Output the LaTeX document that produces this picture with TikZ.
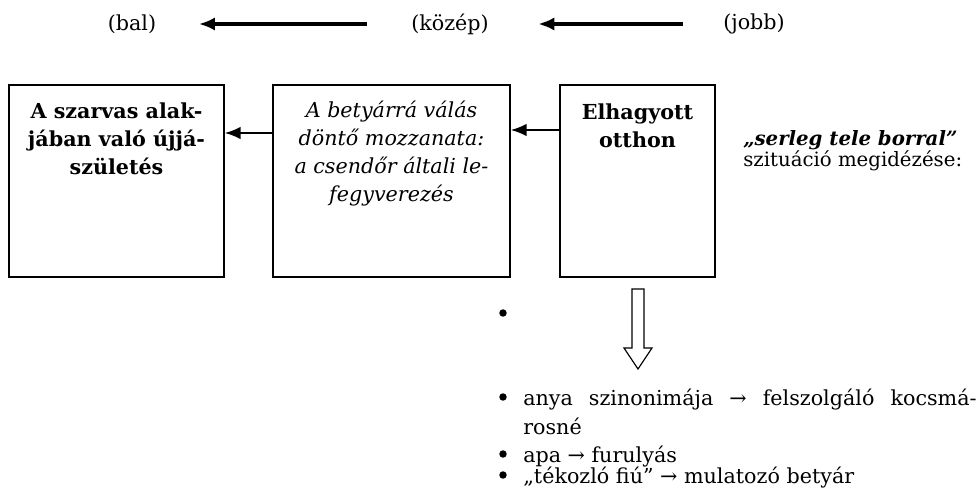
\documentclass[tikz,border=0pt]{standalone}
\usepackage{fontspec}
\setmainfont{DejaVu Serif}
\usetikzlibrary{arrows.meta}

\newcommand\diafont{\fontsize{15.5}{21}\selectfont}

\begin{document}
\begin{tikzpicture}[x=0.75pt,y=-0.75pt,font=\diafont]
  \useasboundingbox (0,0) rectangle (979,496);

  \begin{scope}[every node/.style={inner sep=0pt}]
    \node (bal)   at (132,24) {(bal)};
    \node (kozep) at (450,24) {(közép)};
    \node (jobb)  at (754,24) {(jobb)};
  \end{scope}

  \begin{scope}[every node/.style={draw,rectangle,line width=1pt,minimum height=144pt,inner sep=0pt}]
    \node[minimum width=161.25pt] (1) at (116.5,181) {};
    \node[minimum width=177.75pt] (2) at (391.5,181) {};
    \node[minimum width=116.25pt] (3) at (637.5,181) {};
  \end{scope}

  % anchor=base sits on the last line
  \begin{scope}[every node/.style={align=center,anchor=base,inner sep=0pt}]
    \node[font=\diafont\bfseries] (t1) at (116.5,174) {A szarvas alak-\\jában való újjá-\\születés};
    \node[font=\diafont\itshape]  (t2) at (391.5,201) {A betyárrá válás\\döntő mozzanata:\\a csendőr általi le-\\fegyverezés};
    \node[font=\diafont\bfseries] (t3) at (637.5,147) {Elhagyott\\otthon};
    \node[align=left,anchor=base west,font=\fontsize{14.8}{15.75}\selectfont] (serleg) at (743,166)
      {\textbf{\textit{„serleg tele borral”}}\\szituáció megidézése:};
  \end{scope}

  \begin{scope}[every node/.style={circle,fill,inner sep=0pt,minimum size=5.6pt}]
    \node (b0) at (503,313) {};
    \node (b1) at (503,397) {};
    \node (b2) at (503,454) {};
    \node (b3) at (503,475) {};
  \end{scope}

  \begin{scope}[every node/.style={inner sep=0pt,anchor=base west}]
    \node (l1) at (523,405) {\makebox[340pt][s]{anya szinonimája → felszolgáló kocsmá-}};
    \node (l1b) at (523,434) {rosné};
    \node (l2) at (523,462) {apa → furulyás};
    \node (l3) at (523,483) {„tékozló fiú” → mulatozó betyár};
  \end{scope}

  \begin{scope}[line width=2.4pt,-{Latex[length=12pt,width=10pt]}]
    \path (kozep) edge[shorten <=33.2pt,shorten >=31.9pt] (bal);
    \path (jobb)  edge[shorten <=30.2pt,shorten >=37pt] (kozep);
  \end{scope}

  \begin{scope}[line width=1.6pt,-{Latex[length=12pt,width=9.5pt]}]
    \draw ([yshift=36pt]2.west) -- ([yshift=36pt]1.east);
    \draw ([yshift=38.25pt]3.west) -- ([yshift=38.25pt]2.east);
  \end{scope}

  % hollow arrow down to the list
  \draw[line width=0.9pt] (632,289) -- (644,289) -- (644,348) -- (652,348)
    -- (638,369) -- (624,348) -- (632,348) -- cycle;

\end{tikzpicture}
\end{document}
